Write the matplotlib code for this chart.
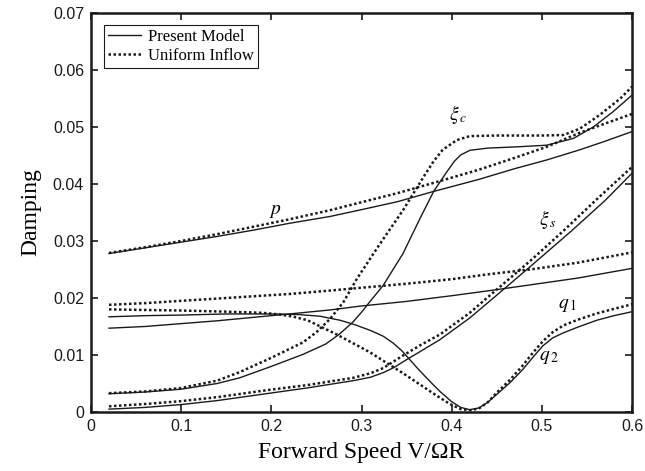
import numpy as np
import matplotlib
matplotlib.use("Agg")
import matplotlib.pyplot as plt

# mode p
p_x_pm = [0.02, 0.06, 0.10, 0.14, 0.18, 0.22, 0.265, 0.30, 0.34, 0.38, 0.43, 0.47, 0.505, 0.542, 0.57, 0.6]
p_y_pm = [0.0278, 0.0288, 0.0298, 0.0308, 0.0319, 0.0331, 0.0343, 0.0355, 0.0369, 0.0387, 0.0408, 0.0427, 0.0442, 0.0460, 0.0475, 0.0492]
p_x_ui = [0.02, 0.06, 0.10, 0.14, 0.18, 0.22, 0.265, 0.30, 0.34, 0.38, 0.43, 0.47, 0.505, 0.542, 0.57, 0.6]
p_y_ui = [0.0279, 0.0289, 0.0300, 0.0312, 0.0325, 0.0338, 0.0354, 0.0368, 0.0384, 0.0402, 0.0425, 0.0446, 0.0465, 0.0490, 0.0506, 0.0523]

# near-straight mode
b_x_pm = [0.02, 0.06, 0.10, 0.14, 0.18, 0.22, 0.265, 0.30, 0.35, 0.40, 0.4425, 0.487, 0.54, 0.6]
b_y_pm = [0.0147, 0.0150, 0.0155, 0.0160, 0.0166, 0.0172, 0.0179, 0.0186, 0.0194, 0.0204, 0.0213, 0.0223, 0.0235, 0.0252]
b_x_ui = [0.02, 0.06, 0.10, 0.14, 0.18, 0.22, 0.265, 0.30, 0.35, 0.40, 0.4425, 0.487, 0.54, 0.6]
b_y_ui = [0.0188, 0.0191, 0.0195, 0.0199, 0.0203, 0.0207, 0.0213, 0.0218, 0.0225, 0.0233, 0.0242, 0.0250, 0.0262, 0.0280]

# dipping mode (q)
c_x_pm = [0.02, 0.06, 0.10, 0.15, 0.20, 0.23, 0.254, 0.276, 0.291, 0.31, 0.324, 0.335, 0.345, 0.354, 0.363, 0.372, 0.38, 0.387, 0.40,
          0.41, 0.42, 0.43, 0.44, 0.45, 0.465, 0.479, 0.49, 0.501, 0.512, 0.524, 0.54, 0.561, 0.58, 0.6]
c_y_pm = [0.0167, 0.0169, 0.0170, 0.0172, 0.0172, 0.0171, 0.0168, 0.0161, 0.0154, 0.0143, 0.0133, 0.0121, 0.0107, 0.0091, 0.0075, 0.0060, 0.0047, 0.0036, 0.0018,
          0.0008, 0.0004, 0.0007, 0.0017, 0.0031, 0.0052, 0.0075, 0.0096, 0.0116, 0.0130, 0.0139, 0.0149, 0.0161, 0.0169, 0.0176]
c_x_ui = [0.02, 0.06, 0.10, 0.15, 0.19, 0.21, 0.225, 0.24, 0.2725, 0.309, 0.346, 0.383, 0.398, 0.41, 0.42, 0.43,
          0.44, 0.45, 0.465, 0.479, 0.49, 0.501, 0.512, 0.524, 0.54, 0.561, 0.58, 0.6]
c_y_ui = [0.0180, 0.0179, 0.0178, 0.0176, 0.0174, 0.0171, 0.0167, 0.0161, 0.0136, 0.0105, 0.0068, 0.0029, 0.0014, 0.0005, 0.0003, 0.0006,
          0.0017, 0.0034, 0.0057, 0.0082, 0.0104, 0.0124, 0.0140, 0.0152, 0.0162, 0.0173, 0.0181, 0.0189]

# xi_c
d_x_pm = [0.02, 0.06, 0.10, 0.14, 0.165, 0.20, 0.235, 0.26, 0.275, 0.29, 0.30, 0.31, 0.324, 0.346, 0.365, 0.38,
          0.394, 0.403, 0.41, 0.42, 0.44, 0.47, 0.505, 0.535, 0.557, 0.579, 0.6]
d_y_pm = [0.0032, 0.0035, 0.0040, 0.0050, 0.0060, 0.0080, 0.0101, 0.0119, 0.0136, 0.0157, 0.0175, 0.0195, 0.0222, 0.0278, 0.0340, 0.0387,
          0.0420, 0.0440, 0.0451, 0.0459, 0.0463, 0.0465, 0.0468, 0.0480, 0.0500, 0.0527, 0.0556]
d_x_ui = [0.02, 0.06, 0.10, 0.14, 0.165, 0.1985, 0.235, 0.25, 0.265, 0.28, 0.295, 0.31, 0.32, 0.346, 0.369, 0.38, 0.39, 0.4056,
          0.42, 0.45, 0.50, 0.524, 0.542, 0.564, 0.587, 0.6]
d_y_ui = [0.0033, 0.0036, 0.0042, 0.0055, 0.0070, 0.0094, 0.0122, 0.0140, 0.0163, 0.0193, 0.0234, 0.0270, 0.0294, 0.0354, 0.0413, 0.0440, 0.0460, 0.0477,
          0.0484, 0.0485, 0.0485, 0.0486, 0.0497, 0.0521, 0.0550, 0.0571]

# xi_s
e_x_pm = [0.02, 0.06, 0.10, 0.14, 0.1985, 0.239, 0.291, 0.31, 0.324, 0.336, 0.346, 0.365, 0.387, 0.42, 0.45, 0.487, 0.533, 0.57, 0.6]
e_y_pm = [0.0005, 0.0008, 0.0013, 0.0020, 0.0033, 0.0042, 0.0055, 0.0061, 0.0069, 0.0078, 0.0088, 0.0106, 0.0127, 0.0165, 0.0205, 0.0255, 0.0318, 0.0371, 0.0419]
e_x_ui = [0.02, 0.06, 0.10, 0.14, 0.1985, 0.239, 0.291, 0.31, 0.324, 0.336, 0.346, 0.365, 0.387, 0.42, 0.45, 0.487, 0.524, 0.56, 0.6]
e_y_ui = [0.0010, 0.0014, 0.0019, 0.0026, 0.0039, 0.0047, 0.0060, 0.0068, 0.0077, 0.0089, 0.0099, 0.0117, 0.0136, 0.0174, 0.0215, 0.0265, 0.0318, 0.0372, 0.0430]

x_ticks = [0, 0.1, 0.2, 0.3, 0.4, 0.5, 0.6]
x_tick_labels = ["0", "0.1", "0.2", "0.3", "0.4", "0.5", "0.6"]
y_ticks = [0, 0.01, 0.02, 0.03, 0.04, 0.05, 0.06, 0.07]
y_tick_labels = ["0", "0.01", "0.02", "0.03", "0.04", "0.05", "0.06", "0.07"]

mode_labels = [(r"$p$", 0.204, 0.0354), (r"$\xi_{\,c}$", 0.407, 0.0522), (r"$\xi_{\,s}$", 0.507, 0.0338),
               (r"$q_{\,\mathit{1}}$", 0.5285, 0.0188), (r"$q_{\,\mathit{2}}$", 0.508, 0.0097)]


def main():
    plt.rcParams["mathtext.fontset"] = "stix"
    fig = plt.figure(figsize=(6.45, 4.71), dpi=100)
    ax = fig.add_axes([0.141, 0.1253, 0.839, 0.8471])

    solid = dict(color="#1a1a1a", lw=1.0, ls="-")
    dotted = dict(color="#1a1a1a", lw=1.8, ls=(0, (1, 1)))
    pairs = [(p_x_pm, p_y_pm, p_x_ui, p_y_ui), (b_x_pm, b_y_pm, b_x_ui, b_y_ui),
             (c_x_pm, c_y_pm, c_x_ui, c_y_ui), (d_x_pm, d_y_pm, d_x_ui, d_y_ui),
             (e_x_pm, e_y_pm, e_x_ui, e_y_ui)]
    for i, (xs, ys, xd, yd) in enumerate(pairs):
        ax.plot(xs, ys, label="Present Model" if i == 0 else None, **solid)
        ax.plot(xd, yd, label="Uniform Inflow" if i == 0 else None, **dotted)

    for txt, x, y in mode_labels:
        ax.text(x, y, txt, fontsize=14, ha="center", va="center")

    ax.set_xlim(0, 0.6)
    ax.set_ylim(0, 0.07)
    ax.set_xticks(x_ticks)
    ax.set_xticklabels(x_tick_labels, family="Liberation Sans", fontsize=11.5)
    ax.set_yticks(y_ticks)
    ax.set_yticklabels(y_tick_labels, family="Liberation Sans", fontsize=11.5)
    ax.tick_params(direction="in", length=5, width=1.2, top=True, right=True, pad=5, colors="#1a1a1a")
    for s in ax.spines.values():
        s.set_linewidth(1.8)
        s.set_color("#1a1a1a")

    ax.set_xlabel("Forward Speed V/\u03A9R", family="Liberation Serif", fontsize=17, labelpad=6)
    ax.set_ylabel("Damping", family="Liberation Serif", fontsize=17, labelpad=8)

    leg = ax.legend(loc="upper left", bbox_to_anchor=(0.024, 0.97), borderaxespad=0,
                    prop={"family": "Liberation Serif", "size": 12}, fancybox=False,
                    framealpha=1, edgecolor="#1a1a1a", handlelength=2.0, handletextpad=0.4,
                    borderpad=0.25, labelspacing=0.15)
    leg.get_frame().set_linewidth(0.8)

    fig.savefig("out.png", dpi=100)


if __name__ == "__main__":
    main()
